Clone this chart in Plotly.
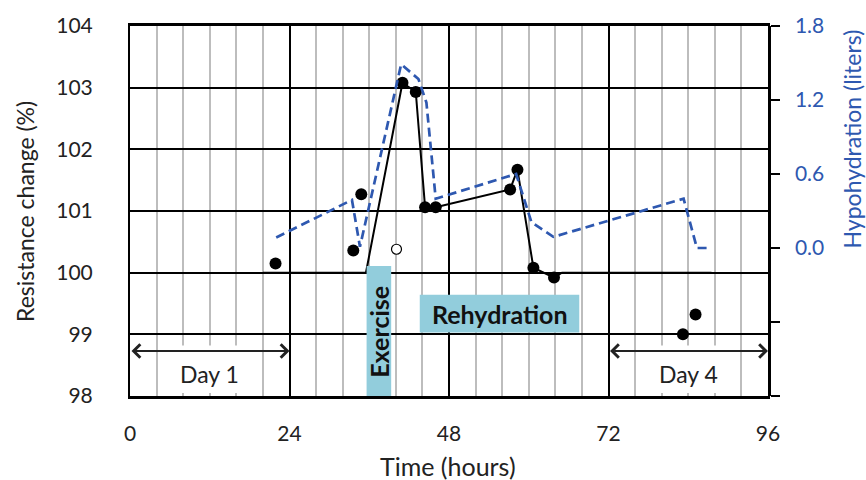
import plotly.graph_objects as go

# ---------------- data ----------------
# black line (resistance change, %)
line_hours = [20, 35.5, 41, 43, 44.4, 46, 57.2, 58.3, 60.7, 63.8, 65, 87.5]
line_values = [100, 100, 103.08, 102.93, 101.06, 101.06, 101.35, 101.67, 100.08, 99.92, 100, 100]

# measured points (filled)
pts_hours = [21.9, 33.6, 34.8, 41, 43, 44.4, 46, 57.2, 58.3, 60.7, 63.8, 83.2, 85.1]
pts_values = [100.15, 100.36, 101.27, 103.08, 102.93, 101.06, 101.06, 101.35, 101.67, 100.08, 99.92, 99.0, 99.32]

# open point
open_hours = [40.1]
open_values = [100.38]

# hypohydration (liters), right axis
hyd_hours = [22, 33.4, 34.6, 40.8, 43.4, 44.6, 46.0, 58.1, 60.4, 63.7, 83.3, 85.3, 86.8]
hyd_values = [0.085, 0.39, 0.01, 1.49, 1.37, 1.18, 0.40, 0.60, 0.21, 0.09, 0.40, 0.0, 0.0]

y2_ticks = [-1.2, -0.6, 0.0, 0.6, 1.2, 1.8]
y2_labels = ["", "", "0.0", "0.6", "1.2", "1.8"]

# annotation spans (hours)
day_spans = [(0, 24, "Day 1"), (72, 96, "Day 4")]
exercise_span = (35.6, 39.3)
rehydration_span = (43.6, 67.6)

FONT = "Lato"
BLUE = "#2E58B0"
BOX = "#92CDDC"
TXT = "#222222"

fig = go.Figure()
fig.add_trace(go.Scatter(x=hyd_hours, y=hyd_values, yaxis="y2", mode="lines",
                         line=dict(color=BLUE, width=2.7, dash="9px,5px"),
                         showlegend=False, hoverinfo="skip"))
fig.add_trace(go.Scatter(x=line_hours, y=line_values, mode="lines",
                         line=dict(color="black", width=2), showlegend=False))
fig.add_trace(go.Scatter(x=pts_hours, y=pts_values, mode="markers",
                         marker=dict(color="black", size=12), showlegend=False))
fig.add_trace(go.Scatter(x=open_hours, y=open_values, mode="markers",
                         marker=dict(color="white", size=10, line=dict(color="black", width=1.2)),
                         showlegend=False))

shapes = []
# white boxes behind day labels
for a, b, label in day_spans:
    shapes.append(dict(type="rect", xref="x", yref="y", x0=a + 4.3, x1=b - 4.3,
                       y0=98.05, y1=98.82, fillcolor="white", line=dict(width=0), layer="above"))
shapes.append(dict(type="rect", xref="x", yref="y", x0=exercise_span[0], x1=exercise_span[1],
                   y0=98, y1=100.11, fillcolor=BOX, line=dict(width=0), layer="above"))
shapes.append(dict(type="rect", xref="x", yref="y", x0=rehydration_span[0], x1=rehydration_span[1],
                   y0=99.03, y1=99.64, fillcolor=BOX, line=dict(width=0), layer="above"))

annotations = []
for a, b, label in day_spans:
    annotations.append(dict(x=(a + b) / 2, y=98.36, xref="x", yref="y", text=label,
                            showarrow=False, font=dict(family=FONT, size=23, color=TXT)))
    annotations.append(dict(x=b, y=98.73, ax=a, ay=98.73, xref="x", yref="y",
                            axref="x", ayref="y", text="", showarrow=True,
                            arrowhead=4, arrowside="end+start", arrowsize=1.3,
                            arrowwidth=2, arrowcolor=TXT))
annotations.append(dict(x=sum(exercise_span) / 2, y=99.04, xref="x", yref="y",
                        text="<b>Exercise</b>", textangle=-90, showarrow=False,
                        font=dict(family=FONT, size=25, color="#111")))
annotations.append(dict(x=sum(rehydration_span) / 2, y=99.33, xref="x", yref="y",
                        text="<b>Rehydration</b>", showarrow=False,
                        font=dict(family=FONT, size=25, color="#111")))
# axis titles
annotations.append(dict(x=-0.1646, y=0.5, xref="paper", yref="paper", xanchor="center", yanchor="middle",
                        text="Resistance change (%)", textangle=-90, showarrow=False,
                        font=dict(family=FONT, size=23, color=TXT)))
annotations.append(dict(x=0.4984, y=-0.188, xref="paper", yref="paper", xanchor="center", yanchor="middle",
                        text="Time (hours)", showarrow=False,
                        font=dict(family=FONT, size=25, color=TXT)))
annotations.append(dict(x=1.131, y=0.695, xref="paper", yref="paper", xanchor="center", yanchor="middle",
                        text="Hypohydration (liters)", textangle=-90, showarrow=False,
                        font=dict(family=FONT, size=23, color=BLUE)))

fig.update_layout(
    width=866, height=480,
    margin=dict(l=130, r=98, t=23, b=84),
    paper_bgcolor="white", plot_bgcolor="white",
    font=dict(family=FONT, size=20, color=TXT),
    shapes=shapes,
    annotations=annotations,
    xaxis=dict(range=[0, 96], tickmode="linear", tick0=0, dtick=24,
               showgrid=True, gridcolor="black", gridwidth=1.5,
               minor=dict(tick0=0, dtick=4, showgrid=True, gridcolor="#BDBDBD", gridwidth=1.5),
               showline=True, linecolor="black", linewidth=2.5, mirror=True,
               ticks="", ticklabelstandoff=17, zeroline=False,
               tickfont=dict(family=FONT, size=21, color=TXT)),
    yaxis=dict(range=[98, 104], tickmode="linear", tick0=98, dtick=1,
               showgrid=True, gridcolor="black", gridwidth=1.5,
               showline=True, linecolor="black", linewidth=2, mirror=True,
               ticks="", ticklabelstandoff=31, zeroline=False,
               tickfont=dict(family=FONT, size=21, color=TXT)),
    yaxis2=dict(range=[-1.2, 1.8], tickmode="array", tickvals=y2_ticks, ticktext=y2_labels,
                overlaying="y", side="right", showgrid=False, zeroline=False,
                showline=True, linecolor="black", linewidth=2.5,
                ticks="outside", ticklen=9, tickwidth=2, tickcolor="black",
                ticklabelstandoff=11,
                tickfont=dict(family=FONT, size=21, color=BLUE)),
)

fig.write_html("out.html")
